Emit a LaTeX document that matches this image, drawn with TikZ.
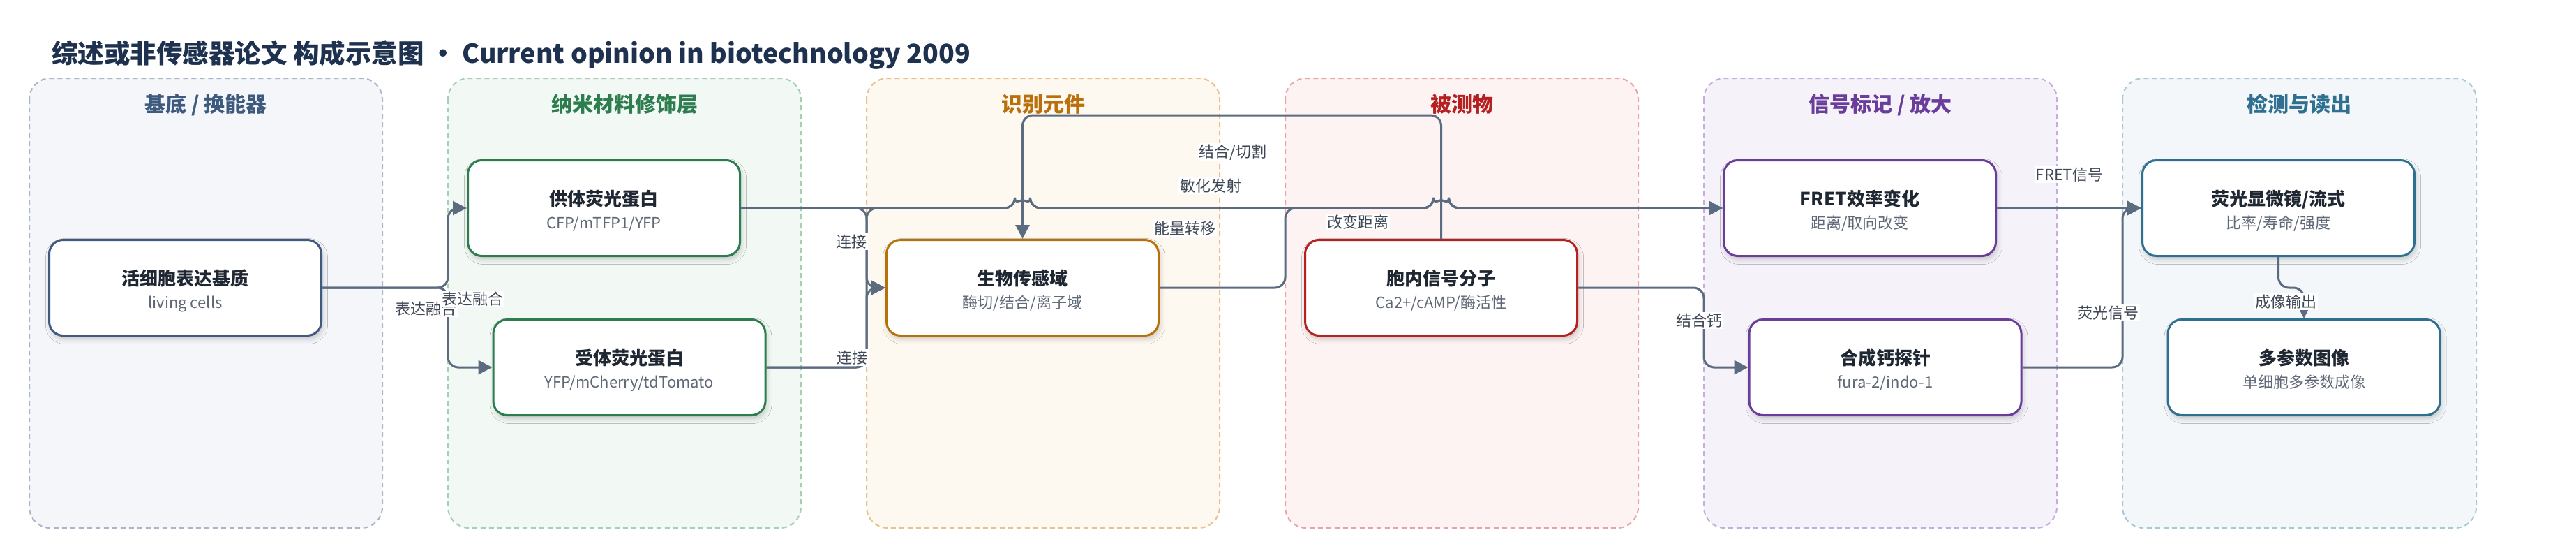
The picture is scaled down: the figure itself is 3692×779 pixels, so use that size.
\documentclass[tikz,border=0pt]{standalone}
\usepackage{fontspec}
\setmainfont{Noto Sans CJK SC}
\usepackage{tikz}
\usetikzlibrary{calc,arrows.meta,shadows.blur}

\definecolor{ink}{HTML}{1E3250}
\definecolor{edge}{HTML}{5C6B7F}
\definecolor{lblink}{HTML}{3F4856}
\definecolor{blkink}{HTML}{1F2733}
\definecolor{subink}{HTML}{5F6877}
\definecolor{gAink}{HTML}{3E5A7E}\definecolor{gAfill}{HTML}{F4F6FA}\definecolor{gAline}{HTML}{A9B6C9}
\definecolor{gBink}{HTML}{2E7D4F}\definecolor{gBfill}{HTML}{F2F8F4}\definecolor{gBline}{HTML}{A6CFB3}
\definecolor{gCink}{HTML}{B9700B}\definecolor{gCfill}{HTML}{FDF8F0}\definecolor{gCline}{HTML}{E9C28B}
\definecolor{gDink}{HTML}{B52020}\definecolor{gDfill}{HTML}{FDF3F3}\definecolor{gDline}{HTML}{E8A4A4}
\definecolor{gEink}{HTML}{6A3D9A}\definecolor{gEfill}{HTML}{F6F2FA}\definecolor{gEline}{HTML}{C5ADDF}
\definecolor{gFink}{HTML}{2F6F8F}\definecolor{gFfill}{HTML}{F3F7F9}\definecolor{gFline}{HTML}{A9C8D6}

\begin{document}
\begin{tikzpicture}[x=1pt,y=-1pt,
    grp/.style={line width=2pt, dash pattern=on 7pt off 5pt, rounded corners=30pt},
    gttl/.style={anchor=base, font=\bfseries\fontsize{30}{36}\selectfont},
    blk/.style={draw, line width=3pt, fill=white, rounded corners=20pt, inner sep=0pt,
        minimum width=390pt, minimum height=137pt,
        blur shadow={shadow xshift=2pt, shadow yshift=-5pt, shadow blur radius=7pt, shadow opacity=20}},
    ttl/.style={anchor=base, font=\bfseries\fontsize{26}{30}\selectfont, text=blkink},
    sub/.style={anchor=base, font=\fontsize{22}{26}\selectfont, text=subink},
    conn/.style={draw=edge, line width=3pt, rounded corners=15pt, -{Triangle[length=20pt,width=20pt]}},
    lbl/.style={anchor=base, fill=white, inner sep=2pt, font=\fontsize{22}{26}\selectfont, text=lblink}]
    \useasboundingbox (0,0) rectangle (3692,779);

    \node[anchor=base west, inner sep=0pt, font=\bfseries\fontsize{37.5}{44}\selectfont, text=ink] (title) at (74,90)
        {综述或非传感器论文 构成示意图 • Current opinion in biotechnology 2009};

    % layers
    \draw[grp, draw=gAline, fill=gAfill] (42,112) rectangle (548,756);
    \draw[grp, draw=gBline, fill=gBfill] (642,112) rectangle (1148,756);
    \draw[grp, draw=gCline, fill=gCfill] (1242,112) rectangle (1748,756);
    \draw[grp, draw=gDline, fill=gDfill] (1842,112) rectangle (2348,756);
    \draw[grp, draw=gEline, fill=gEfill] (2442,112) rectangle (2948,756);
    \draw[grp, draw=gFline, fill=gFfill] (3042,112) rectangle (3549,756);
    \node[gttl, text=gAink] (gA) at (295,160) {基底 / 换能器};
    \node[gttl, text=gBink] (gB) at (895,160) {纳米材料修饰层};
    \node[gttl, text=gCink] (gC) at (1495,160) {识别元件};
    \node[gttl, text=gDink] (gD) at (2095,160) {被测物};
    \node[gttl, text=gEink] (gE) at (2695,160) {信号标记 / 放大};
    \node[gttl, text=gFink] (gF) at (3295,160) {检测与读出};

    % blocks
    \node[blk, draw=gAink] (cell) at (265.5,412) {};
    \node[ttl] (cell-t) at ($(cell.center)+(0,-3.6)$) {活细胞表达基质};
    \node[sub] (cell-s) at ($(cell.center)+(0,29.4)$) {living cells};
    \node[blk, draw=gBink] (donor) at (865.5,298) {};
    \node[ttl] (donor-t) at ($(donor.center)+(0,-3.6)$) {供体荧光蛋白};
    \node[sub] (donor-s) at ($(donor.center)+(0,29.4)$) {CFP/mTFP1/YFP};
    \node[blk, draw=gBink] (acc) at (902,526) {};
    \node[ttl] (acc-t) at ($(acc.center)+(0,-3.6)$) {受体荧光蛋白};
    \node[sub] (acc-s) at ($(acc.center)+(0,29.4)$) {YFP/mCherry/tdTomato};
    \node[blk, draw=gCink] (bio) at (1465.5,412) {};
    \node[ttl] (bio-t) at ($(bio.center)+(0,-3.6)$) {生物传感域};
    \node[sub] (bio-s) at ($(bio.center)+(0,29.4)$) {酶切/结合/离子域};
    \node[blk, draw=gDink] (intr) at (2065.5,412) {};
    \node[ttl] (intr-t) at ($(intr.center)+(0,-3.6)$) {胞内信号分子};
    \node[sub] (intr-s) at ($(intr.center)+(0,29.4)$) {Ca2+/cAMP/酶活性};
    \node[blk, draw=gEink] (fret) at (2665.5,298) {};
    \node[ttl] (fret-t) at ($(fret.center)+(0,-3.6)$) {FRET效率变化};
    \node[sub] (fret-s) at ($(fret.center)+(0,29.4)$) {距离/取向改变};
    \node[blk, draw=gEink] (probe) at (2702,526) {};
    \node[ttl] (probe-t) at ($(probe.center)+(0,-3.6)$) {合成钙探针};
    \node[sub] (probe-s) at ($(probe.center)+(0,29.4)$) {fura-2/indo-1};
    \node[blk, draw=gFink] (mic) at (3265.5,298) {};
    \node[ttl] (mic-t) at ($(mic.center)+(0,-3.6)$) {荧光显微镜/流式};
    \node[sub] (mic-s) at ($(mic.center)+(0,29.4)$) {比率/寿命/强度};
    \node[blk, draw=gFink] (img) at (3302,526) {};
    \node[ttl] (img-t) at ($(img.center)+(0,-3.6)$) {多参数图像};
    \node[sub] (img-s) at ($(img.center)+(0,29.4)$) {单细胞多参数成像};

    % routing lines and line jumps
    \coordinate (r2) at (642,0);
    \coordinate (r3) at (1242,0);
    \coordinate (r4) at (1842,0);
    \coordinate (r5) at (2442,0);
    \coordinate (r6) at (3042,0);
    \coordinate (top) at (0,165);
    \coordinate (h1) at (bio.north |- fret.west);
    \coordinate (h2) at (intr.north |- fret.west);

    \draw[conn] (cell.east) -| (r2 |- donor.west) -- (donor.west);
    \draw[conn] (cell.east) -| (r2 |- acc.west) -- (acc.west);
    \draw[conn] (donor.east) -| (r3 |- bio.west) -- (bio.west);
    \draw[conn] (acc.east) -| (r3 |- bio.west) -- (bio.west);
    \draw[conn] (intr.north) |- (bio.north |- top) -- (bio.north);
    \draw[conn] (donor.east) -- ([xshift=-11pt]h1) arc[start angle=180, end angle=0, radius=11pt]
        -- ([xshift=-11pt]h2) arc[start angle=180, end angle=0, radius=11pt] -- (fret.west);
    \draw[conn] (acc.east) -| (r3 |- fret.west) -- ([xshift=-11pt]h1) arc[start angle=180, end angle=0, radius=11pt]
        -- ([xshift=-11pt]h2) arc[start angle=180, end angle=0, radius=11pt] -- (fret.west);
    \draw[conn] (bio.east) -| (r4 |- fret.west)
        -- ([xshift=-11pt]h2) arc[start angle=180, end angle=0, radius=11pt] -- (fret.west);
    \draw[conn] (intr.east) -| (r5 |- probe.west) -- (probe.west);
    \draw[conn] (fret.east) -- (mic.west);
    \draw[conn] (probe.east) -| (r6 |- mic.west) -- (mic.west);
    \draw[conn] (mic.south) |- (img.north |- cell.center) -- (img.north);

    % edge labels
    \node[lbl] (l1) at (610,450.4) {表达融合};
    \node[lbl] (l2) at (677,436.4) {表达融合};
    \node[lbl] (l3) at (1220,354.4) {连接};
    \node[lbl] (l4) at (1221,520.4) {连接};
    \node[lbl] (l5) at (1767,225.4) {结合/切割};
    \node[lbl] (l6) at (1735,274.4) {敏化发射};
    \node[lbl] (l7) at (1698,335.4) {能量转移};
    \node[lbl] (l8) at (1946,326.4) {改变距离};
    \node[lbl] (l9) at (2435,467.4) {结合钙};
    \node[lbl] (l10) at (2966,258.4) {FRET信号};
    \node[lbl] (l11) at (3021,456.4) {荧光信号};
    \node[lbl] (l12) at (3276,440.4) {成像输出};
\end{tikzpicture}
\end{document}
